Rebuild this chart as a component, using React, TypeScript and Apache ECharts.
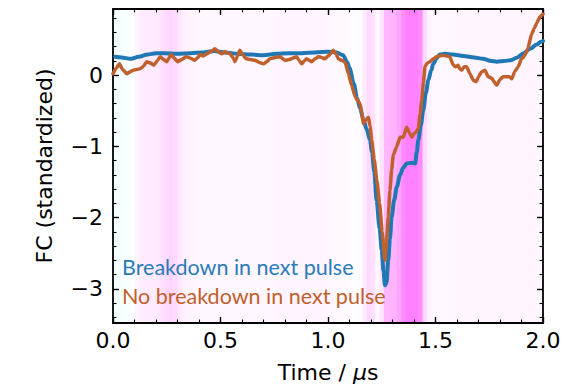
import React, { useEffect, useRef } from "react";
import * as echarts from "echarts";

// Time axis (µs) and standardized FC range
const X_MIN = 0;
const X_MAX = 2;
const Y_MIN = -3.48;
const Y_MAX = 0.93;

const Y_MAJOR_TICKS = [-3, -2, -1, 0];
const Y_MINOR_TICKS = [
  -3.4, -3.2, -2.8, -2.6, -2.4, -2.2, -1.8, -1.6, -1.4, -1.2, -0.8, -0.6, -0.4, -0.2, 0.2, 0.4,
  0.6, 0.8,
];

// Relevance weight per 0.02 µs time bin: positive -> magenta, negative -> cyan
const BIN_WIDTH = 0.02;
const BAND_WEIGHTS = [
  -0.04, -0.04, -0.04, -0.03, -0.01, 0.04, 0.07, 0.08, 0.08, 0.08,
  0.09, 0.12, 0.15, 0.17, 0.14, 0.09, 0.06, 0.05, 0.04, 0.035,
  0.035, 0.035, 0.035, 0.035, 0.035, 0.035, 0.035, 0.035, 0.035, 0.035,
  0.035, 0.035, 0.035, 0.035, 0.035, 0.035, 0.035, 0.035, 0.045, 0.045,
  0.045, 0.045, 0.045, 0.045, 0.045, 0.045, 0.045, 0.045, 0.045, 0.045,
  0.03, 0.03, 0.025, 0.02, 0.02, 0.01, 0.01, 0.02, 0.08, 0.15,
  0.12, 0.03, 0.1, 0.28, 0.3, 0.3, 0.35, 0.45, 0.5, 0.5,
  0.5, 0.45, 0.15, 0.05, 0.03, 0.03, 0.03, 0.03, 0.03, 0.03,
  0.04, 0.04, 0.04, 0.04, 0.04, 0.04, 0.04, 0.04, 0.04, 0.04,
  0.04, 0.04, 0.04, 0.04, 0.04, 0.04, 0.04, 0.04, 0.04, 0.04,
];

// Mean FC trace before a breakdown pulse
const breakdownSeries: [number, number][] = [
  [0.01, 0.26], [0.04, 0.25], [0.08, 0.23], [0.12, 0.26], [0.16, 0.29], [0.2, 0.31],
  [0.24, 0.31], [0.3, 0.3], [0.36, 0.31], [0.42, 0.32], [0.47, 0.34], [0.52, 0.32],
  [0.58, 0.3], [0.64, 0.29], [0.7, 0.28], [0.76, 0.3], [0.82, 0.31], [0.88, 0.31],
  [0.94, 0.32], [1.0, 0.33], [1.04, 0.32], [1.07, 0.28], [1.09, 0.18], [1.1, 0.1],
  [1.12, -0.12], [1.135, -0.32], [1.15, -0.47], [1.165, -0.63], [1.18, -0.76], [1.195, -0.91],
  [1.205, -1.08], [1.215, -1.35], [1.226, -1.76], [1.24, -2.15], [1.25, -2.46], [1.258, -2.75],
  [1.265, -2.95], [1.272, -2.92], [1.28, -2.6], [1.288, -2.3], [1.296, -1.99], [1.308, -1.75],
  [1.32, -1.57], [1.335, -1.4], [1.35, -1.3], [1.366, -1.24], [1.39, -1.23], [1.405, -1.24],
  [1.413, -1.08], [1.42, -0.91], [1.432, -0.7], [1.443, -0.49], [1.455, -0.25], [1.467, -0.07],
  [1.48, 0.07], [1.49, 0.16], [1.505, 0.24], [1.52, 0.29], [1.544, 0.3], [1.58, 0.29],
  [1.63, 0.27], [1.68, 0.25], [1.72, 0.23], [1.76, 0.2], [1.785, 0.19], [1.82, 0.2],
  [1.85, 0.21], [1.88, 0.25], [1.91, 0.31], [1.94, 0.37], [1.97, 0.43], [1.99, 0.47],
  [2.0, 0.48],
];

// Mean FC trace before a pulse without breakdown
const noBreakdownSeries: [number, number][] = [
  [0.0, 0.02], [0.015, 0.1], [0.03, 0.16], [0.045, 0.08], [0.064, 0.02], [0.08, 0.05],
  [0.094, 0.07], [0.11, 0.08], [0.126, 0.09], [0.14, 0.12], [0.157, 0.19], [0.175, 0.17],
  [0.19, 0.14], [0.205, 0.2], [0.22, 0.26], [0.235, 0.22], [0.25, 0.19], [0.26, 0.24],
  [0.27, 0.29], [0.285, 0.24], [0.3, 0.19], [0.32, 0.22], [0.34, 0.26], [0.36, 0.24],
  [0.38, 0.21], [0.395, 0.25], [0.405, 0.29], [0.42, 0.27], [0.436, 0.3], [0.455, 0.33],
  [0.474, 0.37], [0.49, 0.33], [0.505, 0.3], [0.52, 0.33], [0.544, 0.3], [0.56, 0.24],
  [0.567, 0.19], [0.578, 0.26], [0.59, 0.35], [0.605, 0.28], [0.62, 0.23], [0.64, 0.22],
  [0.66, 0.21], [0.68, 0.18], [0.7, 0.16], [0.715, 0.19], [0.73, 0.23], [0.755, 0.25],
  [0.777, 0.26], [0.79, 0.23], [0.8, 0.21], [0.82, 0.22], [0.835, 0.24], [0.854, 0.26],
  [0.865, 0.21], [0.878, 0.16], [0.89, 0.2], [0.9, 0.23], [0.912, 0.21], [0.924, 0.19],
  [0.94, 0.23], [0.955, 0.26], [0.97, 0.25], [0.985, 0.23], [1.0, 0.27], [1.012, 0.3],
  [1.025, 0.35], [1.037, 0.3], [1.048, 0.23], [1.064, 0.21], [1.08, 0.18], [1.095, 0.02],
  [1.11, -0.14], [1.126, -0.3], [1.138, -0.36], [1.149, -0.4], [1.157, -0.52], [1.164, -0.68],
  [1.176, -0.63], [1.188, -0.59], [1.196, -0.72], [1.203, -0.91], [1.215, -1.18], [1.227, -1.47],
  [1.24, -1.8], [1.252, -2.2], [1.265, -2.6], [1.272, -2.35], [1.28, -1.99], [1.288, -1.62],
  [1.296, -1.33], [1.304, -1.12], [1.32, -1.0], [1.335, -0.87], [1.35, -0.87], [1.366, -0.73],
  [1.378, -0.8], [1.39, -0.87], [1.4, -0.82], [1.41, -0.8], [1.42, -0.75], [1.428, -0.55],
  [1.436, -0.35], [1.444, -0.1], [1.451, 0.12], [1.462, 0.17], [1.474, 0.19], [1.49, 0.23],
  [1.505, 0.26], [1.52, 0.27], [1.535, 0.28], [1.55, 0.27], [1.566, 0.26], [1.583, 0.14],
  [1.594, 0.12], [1.605, 0.14], [1.613, 0.09], [1.622, 0.07], [1.633, 0.12], [1.645, 0.12],
  [1.66, 0.02], [1.676, -0.07], [1.69, -0.09], [1.7, -0.02], [1.715, 0.05], [1.73, 0.07],
  [1.745, -0.02], [1.76, -0.04], [1.785, -0.14], [1.8, -0.06], [1.815, -0.02], [1.83, -0.02],
  [1.843, -0.02], [1.855, -0.05], [1.868, 0.05], [1.885, 0.12], [1.9, 0.23], [1.916, 0.28],
  [1.93, 0.38], [1.947, 0.58], [1.96, 0.66], [1.97, 0.73], [1.986, 0.82], [2.0, 0.86],
];

const SERIES_NAMES = ["Breakdown in next pulse", "No breakdown in next pulse"];
const BLUE = "#1f77b4";
const ORANGE = "#c0602c";

const AXIS_FONT = "DejaVu Sans";
const FRAME = "#000";

const minusFmt = (v: number) => (v < 0 ? "\u2212" + Math.abs(v) : String(v));

// Weight -> shading colour: magenta for positive, cyan for negative, white at zero
const weightColor = (w: number) => {
  const a = Math.min(1, Math.abs(w));
  const c = Math.round(255 * (1 - a));
  return w >= 0 ? `rgb(255,${c},255)` : `rgb(${c},255,255)`;
};

export default function App() {
  const ref = useRef<HTMLDivElement>(null);

  useEffect(() => {
    document.body.style.margin = "0";
    if (!ref.current) return;
    const chart = echarts.init(ref.current, undefined, { renderer: "svg" });

    const bandData = BAND_WEIGHTS.map((w, i) => [i * BIN_WIDTH, (i + 1) * BIN_WIDTH, w]);

    const baseX = {
      type: "value",
      min: X_MIN,
      max: X_MAX,
      interval: 0.5,
      splitLine: { show: false },
      axisLine: { show: true, onZero: false, lineStyle: { color: FRAME, width: 1.8 } },
      axisTick: { show: true, inside: true, length: 6, lineStyle: { color: FRAME, width: 1.4 } },
      minorTick: { show: true, splitNumber: 5, length: 3.5, lineStyle: { color: FRAME, width: 1.1 } },
    };

    const baseY = (position: "left" | "right", major: boolean, showLabels: boolean) => ({
      type: "value",
      position,
      min: Y_MIN,
      max: Y_MAX,
      splitLine: { show: false },
      axisLine: { show: major, onZero: false, lineStyle: { color: FRAME, width: 1.8 } },
      axisTick: {
        show: true,
        inside: true,
        length: major ? 6 : 3.5,
        customValues: major ? Y_MAJOR_TICKS : Y_MINOR_TICKS,
        lineStyle: { color: FRAME, width: major ? 1.4 : 1.1 },
      },
      axisLabel: showLabels
        ? {
            show: true,
            customValues: Y_MAJOR_TICKS,
            formatter: minusFmt,
            fontFamily: AXIS_FONT,
            fontSize: 22,
            color: "#000",
            margin: 10,
          }
        : { show: false },
    });

    chart.setOption({
      animation: false,
      backgroundColor: "#fff",
      grid: { left: 113, right: 37, top: 9, bottom: 69, containLabel: false },
      xAxis: [
        {
          ...baseX,
          position: "bottom",
          axisLabel: {
            formatter: (v: number) => v.toFixed(1),
            fontFamily: AXIS_FONT,
            fontSize: 22,
            color: "#000",
            margin: 6,
          },
          name: "Time / {i|\u03bc}s",
          nameLocation: "middle",
          nameGap: 38,
          nameTextStyle: {
            fontFamily: AXIS_FONT,
            fontSize: 22,
            color: "#000",
            verticalAlign: "top",
            rich: { i: { fontFamily: AXIS_FONT, fontSize: 22, fontStyle: "italic", color: "#000" } },
          },
        },
        { ...baseX, position: "top", axisLabel: { show: false } },
      ],
      yAxis: [
        {
          ...baseY("left", true, true),
          name: "FC (standardized)",
          nameLocation: "middle",
          nameGap: 58,
          nameTextStyle: { fontFamily: AXIS_FONT, fontSize: 22, color: "#000" },
        },
        baseY("left", false, false),
        baseY("right", true, false),
        baseY("right", false, false),
      ],
      series: [
        {
          type: "custom",
          name: "weights",
          silent: true,
          z: 0,
          xAxisIndex: 0,
          yAxisIndex: 0,
          encode: { x: [0, 1] },
          data: bandData,
          renderItem: (params: any, api: any) => {
            const p0 = api.coord([api.value(0), 0]);
            const p1 = api.coord([api.value(1), 0]);
            const cs = params.coordSys;
            return {
              type: "rect",
              shape: { x: p0[0], y: cs.y, width: p1[0] - p0[0] + 0.6, height: cs.height },
              style: { fill: weightColor(api.value(2)) },
            };
          },
          clip: true,
        },
        {
          type: "line",
          name: SERIES_NAMES[0],
          data: breakdownSeries,
          xAxisIndex: 0,
          yAxisIndex: 0,
          showSymbol: false,
          smooth: 0.3,
          smoothMonotone: "x",
          z: 3,
          lineStyle: { color: BLUE, width: 4, cap: "round", join: "round" },
        },
        {
          type: "line",
          name: SERIES_NAMES[1],
          data: noBreakdownSeries,
          xAxisIndex: 0,
          yAxisIndex: 0,
          showSymbol: false,
          smooth: 0.15,
          smoothMonotone: "x",
          z: 4,
          lineStyle: { color: ORANGE, width: 3.5, cap: "round", join: "round" },
        },
      ],
      graphic: [
        {
          type: "text",
          left: 122,
          top: 256,
          z: 10,
          style: { text: SERIES_NAMES[0], fill: "#2a7bb8", font: "21.5px Lato" },
        },
        {
          type: "text",
          left: 122,
          top: 285,
          z: 10,
          style: { text: SERIES_NAMES[1], fill: ORANGE, font: "21.5px Lato" },
        },
      ],
    });

    return () => chart.dispose();
  }, []);

  return <div ref={ref} style={{ width: 580, height: 392 }} />;
}
